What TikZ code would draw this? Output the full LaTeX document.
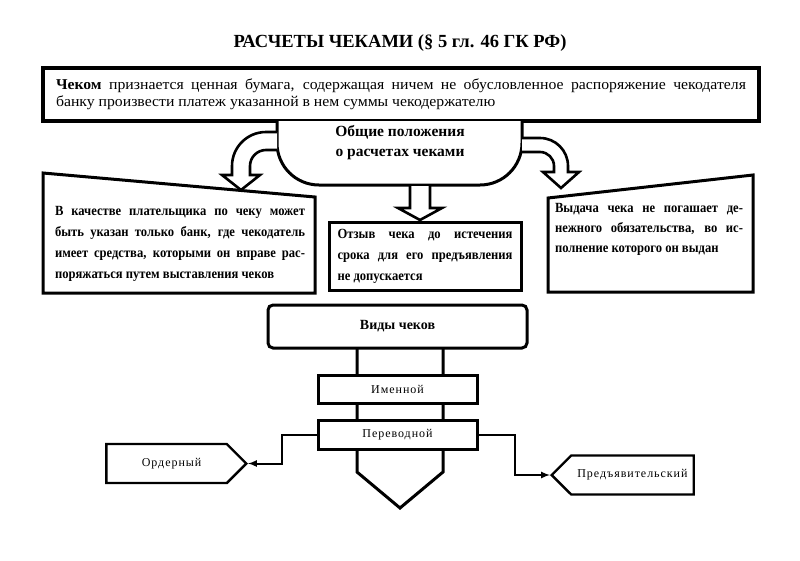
\documentclass[tikz,border=0pt]{standalone}
\usepackage{fontspec}
\setmainfont{Liberation Serif}
\newfontfamily\deffont[FakeStretch=1.05]{Liberation Serif}
\newfontfamily\boxfont[FakeStretch=0.9]{Liberation Serif}
\newfontfamily\typefont[LetterSpace=8]{Liberation Serif}
\usetikzlibrary{arrows, shapes.symbols}

\begin{document}
\begin{tikzpicture}[x=1pt, y=1pt,
  frame/.style={line width=3pt, line join=miter},
  textbox/.style={frame, draw, fill=white, inner sep=0pt},
  note/.style={text width=#1, align=justify, inner sep=0pt,
    font=\boxfont\bfseries\fontsize{14}{21}\selectfont},
  barrow/.style={line width=2.6pt, fill=white, line join=miter},
  kind/.style={textbox, minimum width=159pt, font=\typefont\fontsize{12}{14}\selectfont},
  sig/.style={draw, line width=2.4pt, fill=white, signal, signal pointer angle=90,
    minimum height=39pt, font=\typefont\fontsize{12}{14}\selectfont},
  link/.style={line width=2pt, -latex}]

\useasboundingbox ( 0, 0 ) rectangle ( 800, -560 );

% Title
\node (title) at ( 400, -43 ) {\fontsize{18.5}{20}\selectfont\bfseries РАСЧЕТЫ ЧЕКАМИ (§ 5 гл. 46 ГК РФ)};

% Definition
\node [textbox, line width=3.5pt, minimum width=716pt, minimum height=53pt, text width=690pt,
  align=justify, font=\deffont\fontsize{15}{17}\selectfont] (defn) at ( 401, -94.5 )
  {\textbf{Чеком} признается ценная бумага, содержащая ничем не обусловленное распоряжение чекодателя\linebreak
   банку произвести платеж указанной в нем суммы чекодержателю};

% General provisions
\draw [frame, fill=white] ( 277, -121 ) -- ( 277, -143 ) arc [start angle=180, end angle=270, radius=42]
  -- ( 480, -185 ) arc [start angle=270, end angle=360, radius=42] -- ( 522, -121 );
\node [align=center, font=\fontsize{15.5}{20}\selectfont\bfseries] (common) at ( 400, -143 )
  {Общие положения\\о расчетах чеками};

% Block arrows
\draw [barrow] ( 277, -132 ) -- ( 266, -132 ) arc [start angle=90, end angle=180, radius=34]
  -- ( 232, -175 ) -- ( 222, -175 ) -- ( 241, -190 ) -- ( 260, -175 ) -- ( 250, -175 )
  -- ( 250, -166 ) arc [start angle=180, end angle=90, radius=16] -- ( 277, -150 );
\draw [barrow] ( 410, -186 ) -- ( 410, -208 ) -- ( 398, -208 ) -- ( 420, -220 )
  -- ( 442, -208 ) -- ( 430, -208 ) -- ( 430, -186 );
\draw [barrow] ( 522, -138 ) -- ( 540, -138 ) arc [start angle=90, end angle=0, radius=28]
  -- ( 568, -172 ) -- ( 579, -172 ) -- ( 561, -188 ) -- ( 543, -172 ) -- ( 554, -172 )
  -- ( 554, -166 ) arc [start angle=0, end angle=90, radius=14] -- ( 522, -152 );

% Left box
\draw [frame] ( 43, -173 ) -- ( 315, -197 ) -- ( 315, -293 ) -- ( 43, -293 ) -- cycle;
\node [note=250pt] (payer) at ( 180, -244 )
  {В качестве плательщика по чеку может\linebreak
   быть указан только банк, где чекодатель\linebreak
   имеет средства, которыми он вправе рас-\linebreak
   поряжаться путем выставления чеков};

% Middle box
\node [textbox, note=175pt, minimum width=192pt, minimum height=68pt] (revoke) at ( 425, -256 )
  {Отзыв чека до истечения\linebreak
   срока для его предъявления\linebreak
   не допускается};

% Right box
\draw [frame] ( 548, -198 ) -- ( 753, -175 ) -- ( 753, -292 ) -- ( 548, -292 ) -- cycle;
\node [note=188pt, font=\boxfont\bfseries\fontsize{14}{20}\selectfont] (issue) at ( 649, -229 )
  {Выдача чека не погашает де-\linebreak
   нежного обязательства, во ис-\linebreak
   полнение которого он выдан};

% Kinds of cheques
\node [textbox, rounded corners=5pt, minimum width=259pt, minimum height=43pt,
  font=\fontsize{14}{16}\selectfont\bfseries] (kinds) at ( 397.5, -326.5 ) {Виды чеков};
\draw [frame] ( 357, -348 ) -- ( 357, -472 ) -- ( 400, -508 ) -- ( 443, -472 ) -- ( 443, -348 );
\node [kind, minimum height=28pt] (named) at ( 397.5, -389 ) {Именной};
\node [kind, minimum height=29pt] (transfer) at ( 397.5, -434.5 ) {Переводной};

\node [sig, signal to=east, minimum width=140pt, anchor=east] (order) at ( 248, -463.5 ) {\hspace*{10pt}Ордерный};
\node [sig, signal to=west, minimum width=142pt, anchor=west] (bearer) at ( 550, -475 ) {Предъявительский};

\draw [link] (transfer.west) -- ++( -35, 0 ) |- (order.east);
\draw [link] (transfer.east) -- ++( 36, 0 ) |- (bearer.west);

\end{tikzpicture}
\end{document}
